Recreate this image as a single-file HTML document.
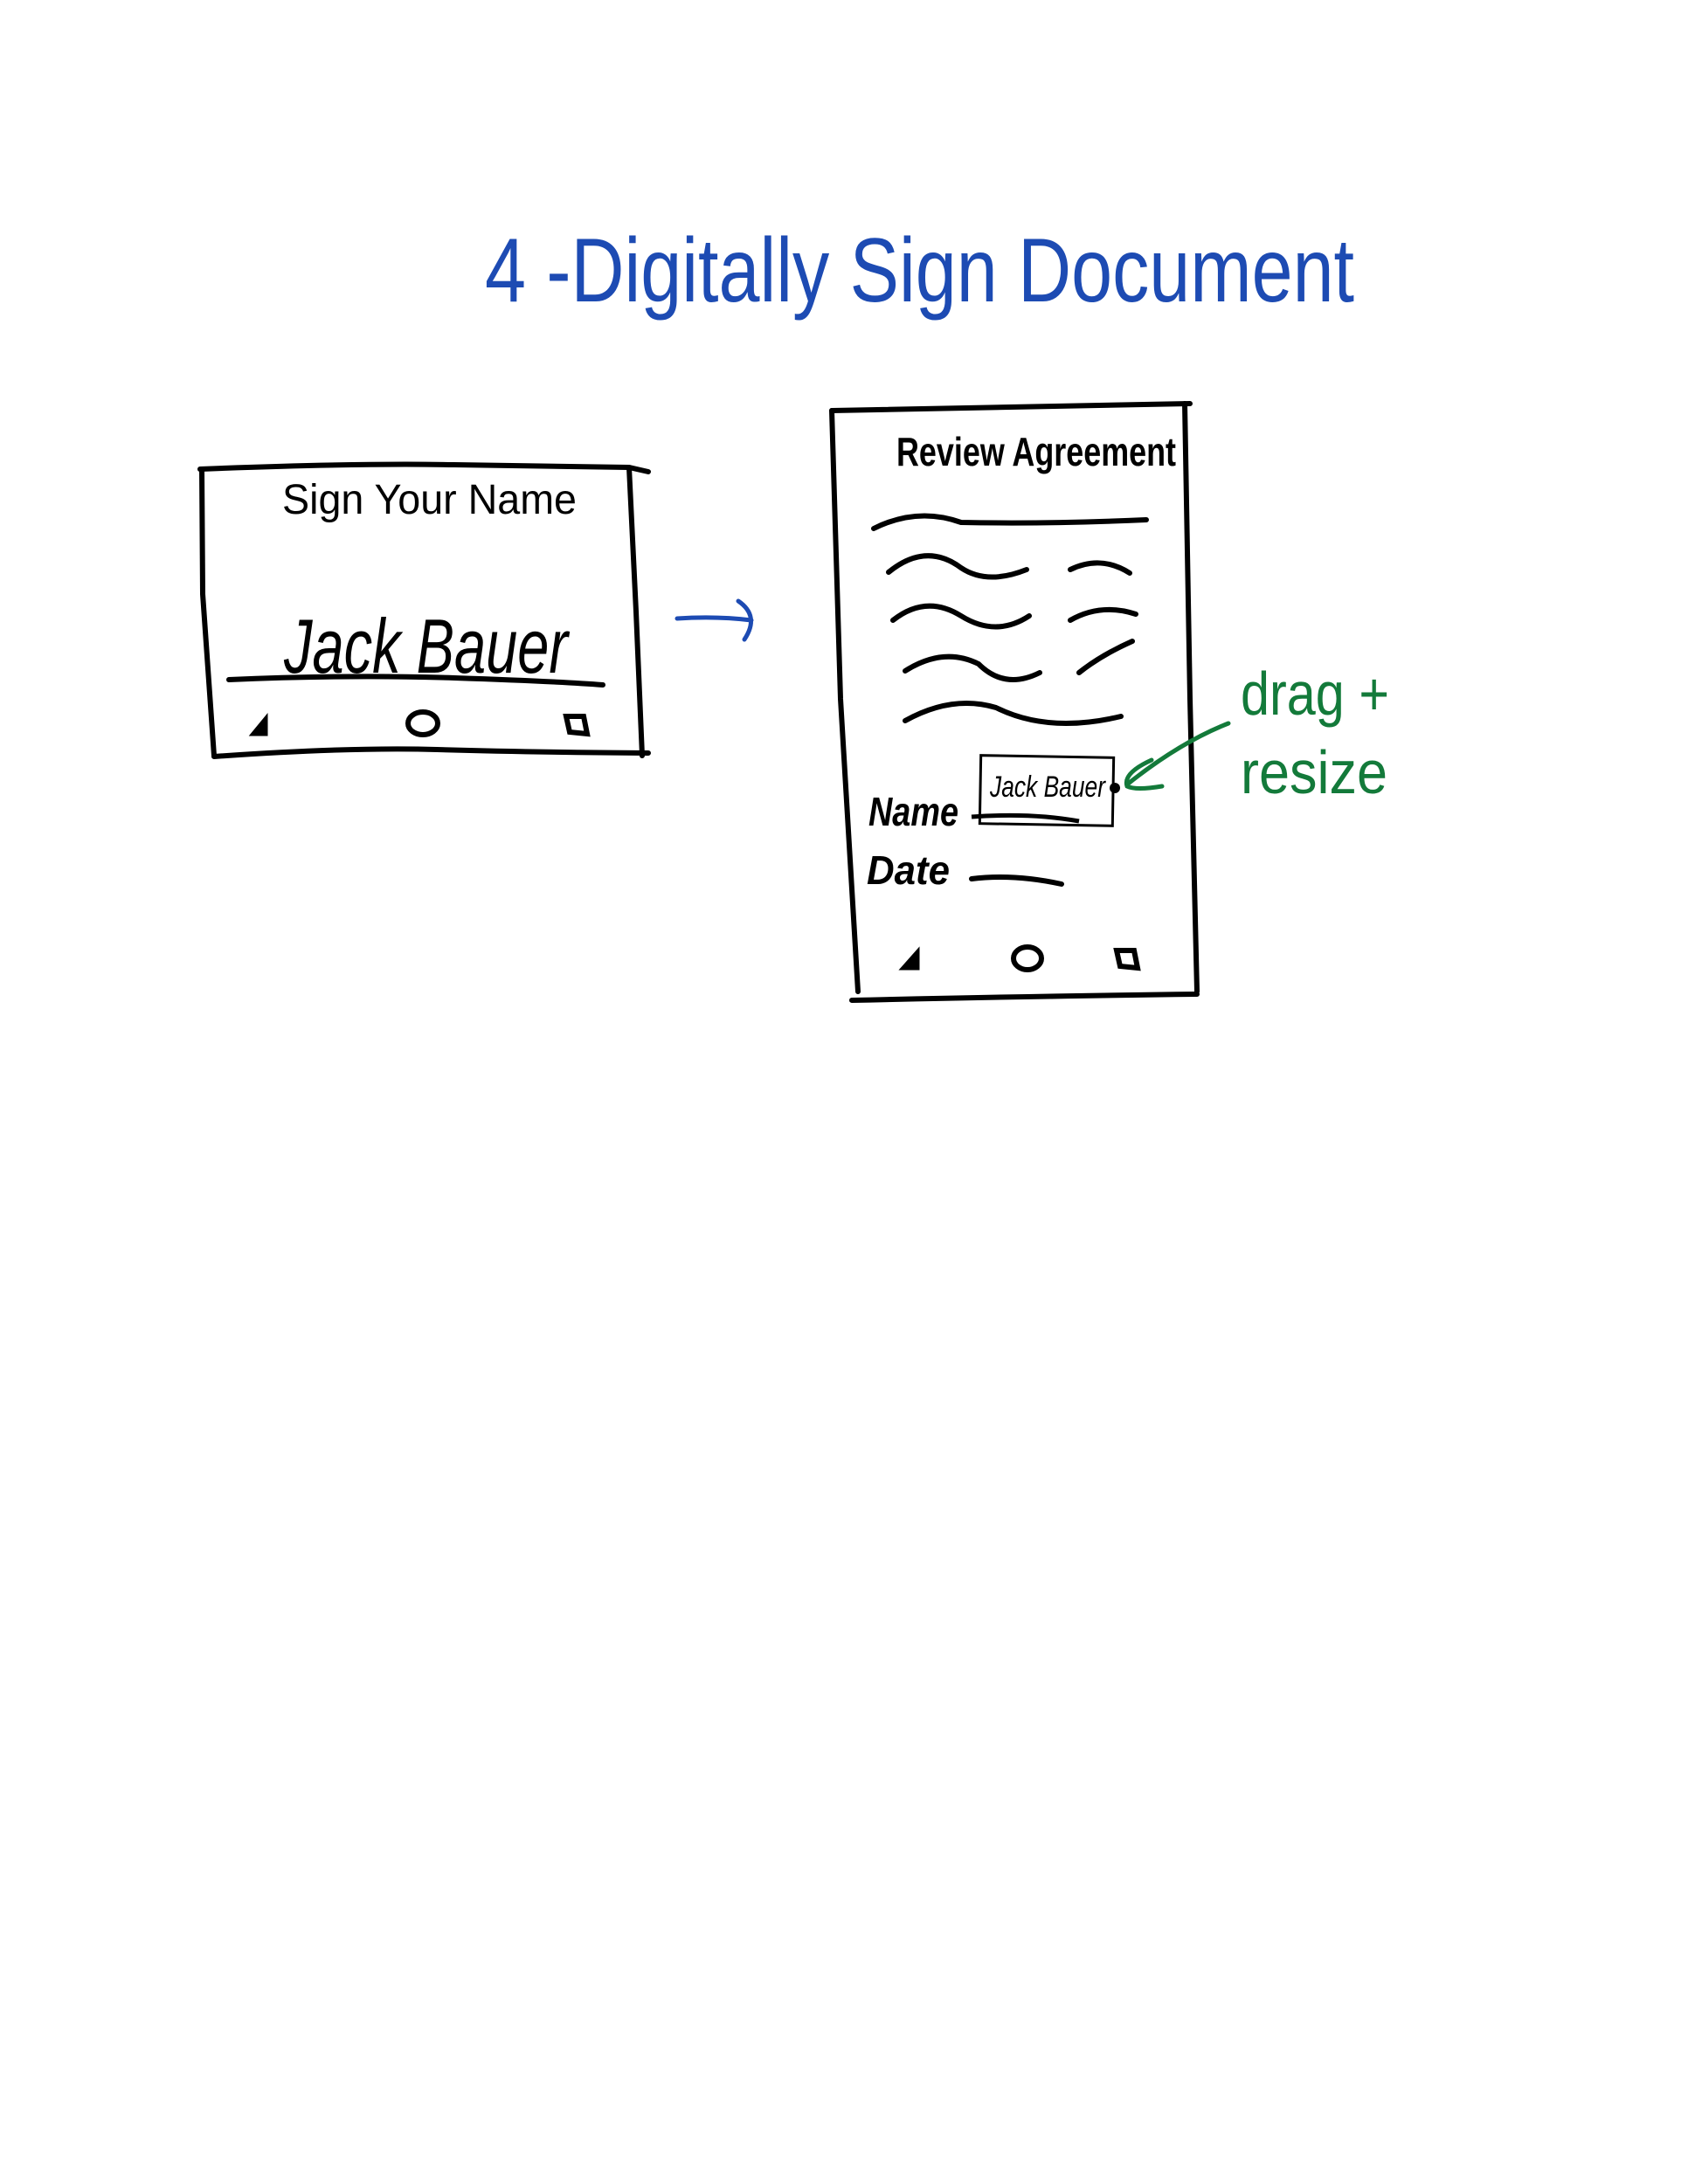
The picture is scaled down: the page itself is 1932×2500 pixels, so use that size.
<!DOCTYPE html>
<html><head><meta charset="utf-8"><style>
html,body{margin:0;padding:0;background:#fff;}
svg{display:block}
text{font-family:"Liberation Sans",sans-serif;}
</style></head><body>
<svg width="1932" height="2500" viewBox="0 0 1932 2500" xmlns="http://www.w3.org/2000/svg">
<rect width="1932" height="2500" fill="#fff"/>
<text x="555" y="345" font-size="104" fill="#1d4bb3" textLength="995" lengthAdjust="spacingAndGlyphs" style="font-weight:300">4 -Digitally Sign Document</text>

<g fill="none" stroke="#000" stroke-width="6" stroke-linecap="round">
<path d="M229 537 Q400 530 520 532 T720 535 L742 540"/>
<path d="M231 537 L232 680 L245 865"/>
<path d="M720 535 L728 700 L735 865"/>
<path d="M245 866 Q400 855 500 858 T742 862"/>
<path d="M262 778 Q400 772 520 776 T690 784"/>
<path d="M952 470 Q1150 466 1362 462"/>
<path d="M952 470 L962 800 L982 1135"/>
<path d="M1356 462 L1362 800 L1370 1135"/>
<path d="M975 1145 Q1200 1140 1370 1138"/>
<path d="M1000 605 Q1050 580 1100 598 Q1200 600 1312 595"/>
<path d="M1017 655 Q1060 620 1100 650 Q1130 670 1175 652"/>
<path d="M1225 652 Q1260 635 1293 656"/>
<path d="M1022 710 Q1060 680 1100 705 Q1140 730 1178 705"/>
<path d="M1225 710 Q1260 690 1300 703"/>
<path d="M1036 768 Q1080 740 1120 760 Q1150 790 1190 770"/>
<path d="M1235 770 Q1260 750 1296 734"/>
<path d="M1036 825 Q1090 795 1140 810 Q1200 840 1283 820"/>
<path d="M1112 1006 Q1160 1000 1215 1012"/>
</g>
<g fill="none" stroke="#000" stroke-width="3">
<rect x="1122" y="866" width="152" height="78" transform="rotate(1 1198 905)"/>
<path d="M1112 935 Q1180 930 1235 940" stroke-width="5"/>
</g>
<text x="323" y="588" font-size="48" fill="#000" textLength="337" lengthAdjust="spacingAndGlyphs" style="font-weight:300">Sign Your Name</text>
<text x="325" y="770" font-size="88" font-style="italic" fill="#000" textLength="325" lengthAdjust="spacingAndGlyphs">Jack Bauer</text>
<text x="1026" y="533" font-size="46" font-weight="bold" fill="#000" textLength="320" lengthAdjust="spacingAndGlyphs">Review Agreement</text>
<text x="994" y="945" font-size="46" font-weight="bold" font-style="italic" fill="#000" textLength="103" lengthAdjust="spacingAndGlyphs">Name</text>
<text x="992" y="1012" font-size="46" font-weight="bold" font-style="italic" fill="#000" textLength="95" lengthAdjust="spacingAndGlyphs">Date</text>
<text x="1133" y="912" font-size="34" font-style="italic" fill="#000" textLength="132" lengthAdjust="spacingAndGlyphs">Jack Bauer</text>
<circle cx="1276" cy="902" r="6" fill="#000"/>
<g fill="#000" stroke="#000" stroke-width="5">
<path d="M290 840 L304 823 L304 840 Z"/>
<path d="M1034 1108 L1050 1090 L1050 1108 Z"/>
</g>
<g fill="none" stroke="#000" stroke-width="6">
<ellipse cx="484" cy="828" rx="17" ry="13"/>
<path d="M648 820 L668 820 L672 840 L652 838 Z"/>
<ellipse cx="1176" cy="1097" rx="16" ry="13"/>
<path d="M1278 1088 L1298 1088 L1302 1108 L1282 1106 Z"/>
</g>
<g fill="none" stroke="#1d4bb3" stroke-width="5" stroke-linecap="round">
<path d="M775 708 Q820 705 860 710"/>
<path d="M845 688 Q870 705 852 732"/>
</g>
<text x="1420" y="818" font-size="70" fill="#137a3a" textLength="170" lengthAdjust="spacingAndGlyphs" style="font-weight:300">drag +</text>
<text x="1420" y="908" font-size="70" fill="#137a3a" textLength="168" lengthAdjust="spacingAndGlyphs" style="font-weight:300">resize</text>
<g fill="none" stroke="#137a3a" stroke-width="5" stroke-linecap="round">
<path d="M1406 828 Q1350 850 1290 898"/>
<path d="M1318 870 Q1285 885 1290 900 Q1300 905 1330 900"/>
</g>
</svg>
</body></html>
